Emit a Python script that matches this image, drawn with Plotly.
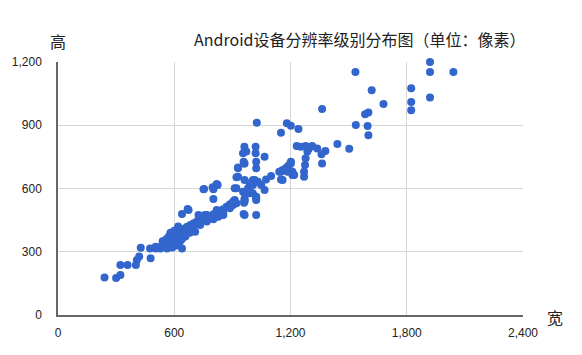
import plotly.graph_objects as go

# device resolution samples (width, height) in pixels
widths = [
    240, 300, 322, 322, 359, 402, 407, 419, 427, 478, 475, 504, 529, 546,
    504, 521, 538, 555, 563, 572, 580, 589, 597, 606, 615, 623, 632, 640, 657, 666,
    683, 700, 717, 734, 751, 768, 785, 802, 819, 836, 853, 870, 887, 904, 912,
    563, 589, 606, 623, 597, 572, 615, 640, 657, 666, 683, 700, 708, 734, 742, 768,
    802, 827, 844, 887, 904, 921, 600, 620, 580, 560, 540, 610, 630, 650, 590, 610,
    620, 640, 660, 680, 640,
    640, 669, 725, 759, 853, 963, 1023, 963, 1023, 674, 819, 853, 768,
    912, 921, 921, 929, 929, 958, 963, 955, 963, 963, 980, 989, 989, 981, 1006,
    1006, 1006, 1015, 1023, 1023, 1023, 1032, 1049, 1066, 1066, 955, 972, 1020, 962,
    1020, 1023, 963, 751, 802, 824, 802, 798, 754, 819, 929, 960, 960, 958, 972, 989,
    1026, 1151, 1181, 1202, 1241, 1363,
    1074, 1100, 1142, 1151, 1151, 1159, 1176, 1185, 1185, 1193, 1202, 1202, 1210,
    1210, 1219, 1159,
    1232, 1253, 1278, 1282, 1295, 1312, 1338, 1380, 1360, 1363, 1287, 1278, 1275,
    1270, 1270, 1442, 1503,
    1537, 1535, 1585, 1602, 1598, 1602, 1619, 1680, 1823, 1823, 1823, 1920, 1920,
    2041, 1920,
]
heights = [
    178, 175, 190, 237, 237, 237, 261, 277, 319, 269, 316, 324, 316, 340,
    316, 321, 327, 332, 340, 348, 356, 364, 372, 379, 384, 391, 395, 400, 411, 419,
    427, 435, 443, 447, 454, 463, 470, 478, 485, 495, 501, 514, 525, 538, 545,
    316, 332, 348, 364, 340, 372, 403, 379, 372, 395, 403, 419, 395, 427, 466, 443,
    454, 466, 482, 506, 522, 530, 400, 420, 390, 360, 350, 360, 350, 390, 320, 330,
    340, 360, 380, 390, 316,
    479, 503, 474, 474, 474, 474, 474, 538, 545, 498, 498, 482, 474,
    601, 601, 653, 656, 696, 727, 719, 585, 545, 640, 593, 577, 625, 601, 617,
    640, 577, 640, 561, 696, 727, 632, 617, 593, 751, 767, 775, 767, 798,
    798, 553, 553, 596, 596, 617, 550, 606, 598, 621, 700, 719, 533, 479, 577, 585,
    912, 865, 909, 898, 882, 977,
    643, 659, 680, 643, 680, 688, 696, 680, 703, 711, 719, 727, 664,
    680, 664, 640,
    802, 798, 802, 798, 790, 802, 790, 778, 762, 719, 775, 743, 711,
    680, 656, 811, 789,
    901, 1153, 952, 961, 896, 852, 1066, 1001, 1075, 1010, 971, 1200, 1153,
    1153, 1032,
]

x_ticks = [0, 600, 1200, 1800, 2400]
y_ticks = [0, 300, 600, 900, 1200]
title_text = "Android设备分辨率级别分布图（单位：像素）"
x_label = "宽"
y_label = "高"

tick_font = dict(family="Arial, Liberation Sans, sans-serif", size=12, color="#222222")
cjk_font = "Microsoft YaHei, Noto Sans CJK SC, sans-serif"

fig = go.Figure()
fig.add_trace(go.Scatter(
    x=widths, y=heights, mode="markers",
    marker=dict(color="#3366CC", size=8, line=dict(width=0)),
    cliponaxis=False,
    hoverinfo="x+y",
))

fig.update_layout(
    width=582, height=355,
    margin=dict(l=53, r=59, t=62, b=40),
    paper_bgcolor="white", plot_bgcolor="white",
    showlegend=False,
    xaxis=dict(
        range=[0, 2400], tickvals=x_ticks, tickformat=",",
        showgrid=True, gridcolor="#d6d6d6", gridwidth=1,
        showline=True, linecolor="#666666", linewidth=1.5,
        zeroline=False, ticks="outside", ticklen=6, tickcolor="rgba(0,0,0,0)",
        tickfont=tick_font, fixedrange=True,
    ),
    yaxis=dict(
        range=[0, 1200], tickvals=y_ticks, tickformat=",",
        showgrid=True, gridcolor="#d6d6d6", gridwidth=1,
        showline=True, linecolor="#666666", linewidth=1.5,
        zeroline=False, ticks="outside", ticklen=12, tickcolor="rgba(0,0,0,0)",
        tickfont=tick_font, fixedrange=True,
    ),
    annotations=[
        dict(text=title_text, xref="paper", yref="paper", x=1.0085, y=1.091,
             xanchor="right", yanchor="middle", showarrow=False,
             font=dict(family=cjk_font, size=16, color="#222222")),
        dict(text=y_label, xref="paper", yref="paper", x=0.0, y=1.083,
             xanchor="center", yanchor="middle", showarrow=False,
             font=dict(family=cjk_font, size=16, color="#222222")),
        dict(text=x_label, xref="paper", yref="paper", x=1.068, y=-0.007,
             xanchor="center", yanchor="middle", showarrow=False,
             font=dict(family=cjk_font, size=16, color="#222222")),
    ],
)

fig.write_html("out.html")
